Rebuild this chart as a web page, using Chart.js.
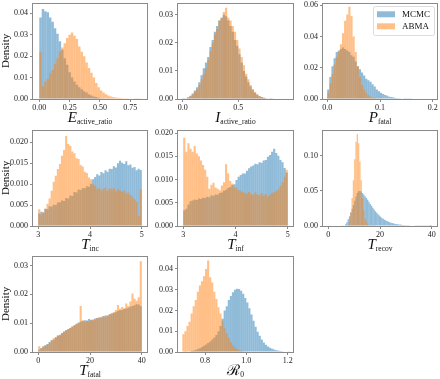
<!DOCTYPE html>
<html>
<head>
<meta charset="utf-8">
<script src="https://cdn.jsdelivr.net/npm/chart.js@4.4.0/dist/chart.umd.min.js"></script>
<style>
  html, body { margin: 0; padding: 0; background: #fff; width: 440px; height: 379px; overflow: hidden; }
  .panel { position: absolute; }
  .xlabel { position: absolute; text-align: center; font-family: "Liberation Serif", serif; color: #111; white-space: nowrap; line-height: 1; }
  .xlabel .m { font-size: 15px; font-style: italic; }
  .xlabel .s { font-size: 7.5px; vertical-align: -0.3em; }
</style>
</head>
<body>
<script>
const seriesNames = ["MCMC", "ABMA"];

// E_active_ratio, bins 0..0.84
const eRange = [0, 0.84];
const eMCMC = [.038, .042, .041, .0405, .038, .036, .033, .0305, .027, .023,
  .019, .016, .0125, .010, .0082, .0066, .0055, .0045, .0036, .003,
  .0022, .0016, .0012, .0009, .0006, .0004, .0003, .0002, .0001, 0,
  0, 0, 0, 0, 0, 0, 0, 0, 0, 0, 0, 0];
const eABMA = [.022, .006, .008, .0095, .012, .0135, .0165, .019, .022, .024,
  .026, .0285, .030, .031, .0295, .028, .0245, .022, .020, .017,
  .0145, .0122, .010, .0075, .0055, .004, .003, .0022, .0016, .0012,
  .0009, .0007, .0006, .0005, .0004, .0003, .0003, .0002, .0002, .0001, .0001, .0001];

// I_active_ratio, bins 0..0.96
const iRange = [0, 0.96];
const iMCMC = [.0001, .0003, .0006, .0012, .002, .003, .0042, .006, .0085, .011,
  .013, .015, .0185, .021, .024, .026, .028, .029, .030, .0295,
  .028, .026, .024, .021, .019, .016, .013, .010, .008, .006,
  .0045, .0033, .0022, .0015, .001, .0007, .0004, .0003, .0002, .0001,
  0, 0, 0, 0, 0, 0, 0, 0];
const iABMA = [.0001, .0002, .0005, .001, .0016, .0025, .0035, .005, .007, .009,
  .011, .014, .017, .020, .023, .025, .028, .029, .031, .0325,
  .029, .028, .026, .024, .021, .018, .015, .012, .009, .007,
  .005, .0035, .0025, .0017, .0011, .0007, .0005, .0003, .0002, .0001,
  .0001, 0, 0, 0, 0, 0, 0, 0];

// P_fatal, bins 0..0.2
const pRange = [0, 0.2];
const pMCMC = [.006, .014, .021, .026, .030, .031, .032, .033, .032, .031,
  .030, .028, .027, .024, .021, .019, .017, .015, .013, .012,
  .011, .0095, .008, .006, .005, .004, .0032, .0025, .002, .0015,
  .0012, .0009, .0007, .0005, .0004, .0003, .0002, .0002, .0001, .0001,
  0, 0, 0, 0, 0, 0, 0, 0, 0, 0];
const pABMA = [.004, .010, .016, .022, .027, .030, .035, .042, .050, .054,
  .059, .053, .040, .030, .021, .014, .009, .006, .004, .0025,
  .0015, .001, .0006, .0004, .0002, .0001, 0, 0, 0, 0,
  0, 0, 0, 0, 0, 0, 0, 0, 0, 0,
  0, 0, 0, 0, 0, 0, 0, 0, 0, 0];

// T_inc, bins 3..5
const incRange = [3, 5];
const incMCMC = [.0030, .0034, .0032, .0041, .0040, .0047, .0046, .0051, .0050, .0056,
  .0057, .0061, .0060, .0067, .0066, .0073, .0072, .0081, .0080, .0087,
  .0086, .0091, .0090, .0095, .0094, .0101, .0112, .0117, .0124, .0121,
  .0129, .0126, .0133, .0130, .0137, .0136, .0143, .0140, .0150, .0156,
  .0151, .0148, .0155, .0145, .0147, .0139, .0141, .0133, .0137, .0134];
const incABMA = [.0040, .0027, .0033, .0041, .0053, .0066, .0084, .0106, .0120, .0136,
  .0148, .0168, .0182, .0215, .0196, .0192, .0178, .0174, .0162, .0160,
  .0146, .0142, .0130, .0127, .0116, .0112, .0100, .0096, .0088, .0091,
  .0085, .0089, .0092, .0084, .0090, .0087, .0091, .0083, .0088, .0085,
  .0082, .0084, .0078, .0080, .0074, .0070, .0064, .0058, .0024, .0088];

// T_inf, bins 3..5
const infRange = [3, 5];
const infMCMC = [.0034, .0037, .0046, .0053, .0055, .0057, .0056, .0059, .0058, .0061,
  .0060, .0063, .0062, .0066, .0065, .0068, .0067, .0071, .0072, .0076,
  .0078, .0082, .0084, .0088, .0090, .0099, .0106, .0110, .0113, .0113,
  .0119, .0124, .0128, .0130, .0134, .0133, .0137, .0136, .0141, .0142,
  .0149, .0153, .0160, .0166, .0157, .0151, .0142, .0137, .0125, .0115];
const infABMA = [.0190, .0160, .0178, .0166, .0160, .0172, .0156, .0150, .0141, .0131,
  .0121, .0106, .0080, .0089, .0093, .0083, .0080, .0077, .0087, .0094,
  .0133, .0113, .0097, .0091, .0084, .0081, .0077, .0076, .0073, .0071,
  .0070, .0073, .0069, .0067, .0072, .0068, .0066, .0071, .0065, .0069,
  .0063, .0068, .0071, .0073, .0076, .0079, .0086, .0094, .0106, .0121];

// T_recov, bins 5..40
const recRange = [5, 40];
const recMCMC = [0, .0002, .0008, .0025, .0055, .0095, .014, .019, .0245, .030,
  .036, .042, .047, .0495, .050, .049, .047, .045, .0425, .040,
  .0375, .0345, .0315, .029, .026, .0235, .021, .019, .0168, .015,
  .013, .0115, .0102, .009, .008, .007, .0062, .0055, .0048, .0042,
  .0037, .0033, .0029, .0026, .0023, .002, .0018, .0016, .0014, .0012,
  .0011, .001, .0009, .0008, .0007, .0006, .0006, .0005, .0005, .0004,
  .0004, .0003, .0003, .0003, .0002, .0002, .0002, .0002, .0001, .0001];
const recABMA = [0, 0, 0, .0002, .0006, .0015, .008, .020, .040, .065,
  .095, .120, .131, .118, .092, .065, .040, .022, .011, .006,
  .003, .0015, .0008, .0004, .0002, .0001, 0, 0, 0, 0,
  0, 0, 0, 0, 0, 0, 0, 0, 0, 0,
  0, 0, 0, 0, 0, 0, 0, 0, 0, 0,
  0, 0, 0, 0, 0, 0, 0, 0, 0, 0,
  0, 0, 0, 0, 0, 0, 0, 0, 0, 0];

// T_fatal, bins 0..40
const fatRange = [0, 40];
const fatMCMC = [.0008, .0014, .0020, .0023, .0028, .0035, .0040, .0043, .0050, .0056,
  .0060, .0066, .0070, .0076, .0080, .0083, .0087, .0092, .0098, .0102,
  .0105, .0108, .0110, .0109, .0115, .0112, .0110, .0116, .0118, .0121,
  .0120, .0124, .0127, .0126, .0130, .0133, .0136, .0138, .0142, .0145,
  .0146, .0149, .0151, .0154, .0157, .0160, .0162, .0166, .0165, .0160];
const fatABMA = [.0020, .0012, .0018, .0024, .0026, .0030, .0042, .0048, .0052, .0058,
  .0056, .0064, .0072, .0075, .0078, .0084, .0090, .0094, .0097, .0100,
  .0160, .0110, .0104, .0108, .0105, .0110, .0114, .0112, .0118, .0116,
  .0122, .0125, .0120, .0128, .0132, .0135, .0138, .0146, .0163, .0150,
  .0156, .0152, .0168, .0160, .0175, .0203, .0185, .0178, .0190, .0315];

// R_0, bins 0.69..1.21
const r0Range = [0.69, 1.21];
const r0MCMC = [0, .0001, .0002, .0003, .0005, .0007, .0010, .0014, .0018, .0024,
  .0030, .0036, .0043, .0050, .0060, .0070, .0082, .0100, .0125, .0160,
  .0200, .0220, .0250, .0270, .0288, .0300, .0305, .0303, .0295, .0280,
  .0260, .0238, .0210, .0180, .0150, .0122, .0098, .0078, .0060, .0046,
  .0035, .0027, .0021, .0016, .0012, .0009, .0007, .0005, .0004, .0003,
  .0002, .0001];
const r0ABMA = [.0085, .0100, .0125, .0145, .0185, .0220, .0250, .0290, .0320, .0340,
  .0365, .0400, .0440, .0360, .0335, .0290, .0255, .0215, .0185, .0150,
  .0115, .0090, .0068, .0048, .0033, .0023, .0015, .0010, .0006, .0004,
  .0002, .0001, 0, 0, 0, 0, 0, 0, 0, 0,
  0, 0, 0, 0, 0, 0, 0, 0, 0, 0,
  0, 0];

const BLUE = "rgba(31, 119, 180, 0.5)";
const ORANGE = "rgba(255, 127, 14, 0.5)";
const FRAME = "#8a8a8a";
const FONT = "'Liberation Serif', serif";
const AXIS_W = 33, AXIS_H = 14, PAD_T = 6, PAD_R = 8;

const colLeft = [33, 178, 323];
const colWidth = [114, 115, 114];
const rowTop = [2, 129, 255];
const panelH = 97;

const panels = [
  { col: 0, row: 0, range: eRange, mcmc: eMCMC, abma: eABMA, main: "E", sub: "active_ratio",
    xMin: -0.052, xMax: 0.888, xTicks: [0, 0.25, 0.5, 0.75], xDec: 2,
    yMax: 0.0449, yTicks: [0, 0.01, 0.02, 0.03, 0.04], yDec: 2, density: true },
  { col: 1, row: 0, range: iRange, mcmc: iMCMC, abma: iABMA, main: "I", sub: "active_ratio",
    xMin: -0.042, xMax: 0.991, xTicks: [0, 0.5], xDec: 1,
    yMax: 0.0343, yTicks: [0, 0.01, 0.02, 0.03], yDec: 2 },
  { col: 2, row: 0, range: pRange, mcmc: pMCMC, abma: pABMA, main: "P", sub: "fatal",
    xMin: -0.008, xMax: 0.208, xTicks: [0, 0.1, 0.2], xDec: 1,
    yMax: 0.0615, yTicks: [0, 0.02, 0.04, 0.06], yDec: 2, legend: true },
  { col: 0, row: 1, range: incRange, mcmc: incMCMC, abma: incABMA, main: "T", sub: "inc",
    xMin: 2.9, xMax: 5.1, xTicks: [3, 4, 5], xDec: 0,
    yMax: 0.023, yTicks: [0, 0.005, 0.01, 0.015, 0.02], yDec: 3, density: true },
  { col: 1, row: 1, range: infRange, mcmc: infMCMC, abma: infABMA, main: "T", sub: "inf",
    xMin: 2.9, xMax: 5.1, xTicks: [3, 4, 5], xDec: 0,
    yMax: 0.0207, yTicks: [0, 0.005, 0.01, 0.015, 0.02], yDec: 3 },
  { col: 2, row: 1, range: recRange, mcmc: recMCMC, abma: recABMA, main: "T", sub: "recov",
    xMin: -2, xMax: 42, xTicks: [0, 20, 40], xDec: 0,
    yMax: 0.137, yTicks: [0, 0.05, 0.1], yDec: 2 },
  { col: 0, row: 2, range: fatRange, mcmc: fatMCMC, abma: fatABMA, main: "T", sub: "fatal",
    xMin: -2, xMax: 42, xTicks: [0, 20, 40], xDec: 0,
    yMax: 0.0334, yTicks: [0, 0.01, 0.02, 0.03], yDec: 2, density: true },
  { col: 1, row: 2, range: r0Range, mcmc: r0MCMC, abma: r0ABMA, main: "\u211B", sub: "0", upright: true,
    xMin: 0.669, xMax: 1.226, xTicks: [0.8, 1.0, 1.2], xDec: 1,
    yMax: 0.0463, yTicks: [0, 0.01, 0.02, 0.03, 0.04], yDec: 2 },
];

function toPoints(range, values) {
  const w = (range[1] - range[0]) / values.length;
  return values.map((v, i) => ({ x: range[0] + (i + 0.5) * w, y: v }));
}

const framePlugin = {
  id: "frame",
  afterDatasetsDraw(chart) {
    const { ctx, chartArea: a } = chart;
    ctx.save();
    ctx.strokeStyle = FRAME;
    ctx.lineWidth = 1;
    ctx.strokeRect(Math.round(a.left) - 0.5, Math.round(a.top) + 0.5,
      Math.round(a.right) - Math.round(a.left) + 1, Math.round(a.bottom) - Math.round(a.top));
    ctx.restore();
  }
};

const boxLegend = {
  id: "boxLegend",
  afterDraw(chart, args, opts) {
    if (!opts.show) return;
    const { ctx, chartArea: a } = chart;
    const bw = 61, bh = 29;
    const x0 = a.right - 3 - bw, y0 = a.top + 3;
    ctx.save();
    ctx.fillStyle = "rgba(255,255,255,0.8)";
    ctx.strokeStyle = "#dcdcdc";
    ctx.lineWidth = 1;
    ctx.beginPath();
    ctx.roundRect(Math.round(x0) + 0.5, Math.round(y0) + 0.5, bw, bh, 2);
    ctx.fill();
    ctx.stroke();
    const colors = [BLUE, ORANGE];
    ctx.font = "9px " + FONT;
    ctx.textBaseline = "middle";
    seriesNames.forEach((name, i) => {
      const cy = y0 + 8.5 + i * 12;
      ctx.fillStyle = colors[i];
      ctx.fillRect(x0 + 4, cy - 3, 18, 6);
      ctx.fillStyle = "#111";
      ctx.fillText(name, x0 + 29, cy + 0.5);
    });
    ctx.restore();
  }
};

panels.forEach((p) => {
  const left = colLeft[p.col], top = rowTop[p.row], w = colWidth[p.col];
  const canvas = document.createElement("canvas");
  canvas.className = "panel";
  canvas.width = AXIS_W + w + PAD_R;
  canvas.height = PAD_T + panelH + AXIS_H;
  canvas.style.left = (left - AXIS_W) + "px";
  canvas.style.top = (top - PAD_T) + "px";
  document.body.appendChild(canvas);

  const label = document.createElement("div");
  label.className = "xlabel";
  label.style.left = left + "px";
  label.style.width = w + "px";
  label.style.top = (top + panelH + 10) + "px";
  label.innerHTML = '<span class="m"' + (p.upright ? ' style="font-style:normal"' : "") + ">" +
    p.main + '</span><span class="s">' + p.sub + "</span>";
  document.body.appendChild(label);

  const tickFont = { family: FONT, size: 8 };

  new Chart(canvas, {
    type: "bar",
    data: {
      datasets: [
        { label: seriesNames[0], data: toPoints(p.range, p.mcmc), backgroundColor: BLUE, order: 2 },
        { label: seriesNames[1], data: toPoints(p.range, p.abma), backgroundColor: ORANGE, order: 1 },
      ],
    },
    options: {
      responsive: false,
      animation: false,
      events: [],
      grouped: false,
      barPercentage: 1,
      categoryPercentage: 1,
      borderWidth: 0,
      inflateAmount: 0,
      layout: { padding: { top: PAD_T, right: PAD_R, left: 0, bottom: 0 } },
      scales: {
        x: {
          type: "linear",
          offset: false,
          min: p.xMin,
          max: p.xMax,
          afterBuildTicks: (s) => { s.ticks = p.xTicks.map((v) => ({ value: v })); },
          afterFit: (s) => { s.height = AXIS_H; },
          ticks: { callback: (v) => Number(v).toFixed(p.xDec), font: tickFont, color: "#222", padding: 1, maxRotation: 0, autoSkip: false },
          grid: { offset: false, drawOnChartArea: false, drawTicks: true, tickLength: 3, color: FRAME },
          border: { display: false },
        },
        y: {
          min: 0,
          max: p.yMax,
          afterBuildTicks: (s) => { s.ticks = p.yTicks.map((v) => ({ value: v })); },
          afterFit: (s) => { s.width = AXIS_W; },
          ticks: { callback: (v) => Number(v).toFixed(p.yDec), font: tickFont, color: "#222", padding: 2 },
          grid: { drawOnChartArea: false, drawTicks: true, tickLength: 3, color: FRAME },
          border: { display: false },
          title: { display: !!p.density, text: "Density", font: { family: FONT, size: 11, weight: "normal" }, color: "#111", padding: 0 },
        },
      },
      plugins: {
        legend: { display: false },
        tooltip: { enabled: false },
        boxLegend: { show: !!p.legend },
      },
    },
    plugins: [framePlugin, boxLegend],
  });
});
</script>
</body>
</html>
